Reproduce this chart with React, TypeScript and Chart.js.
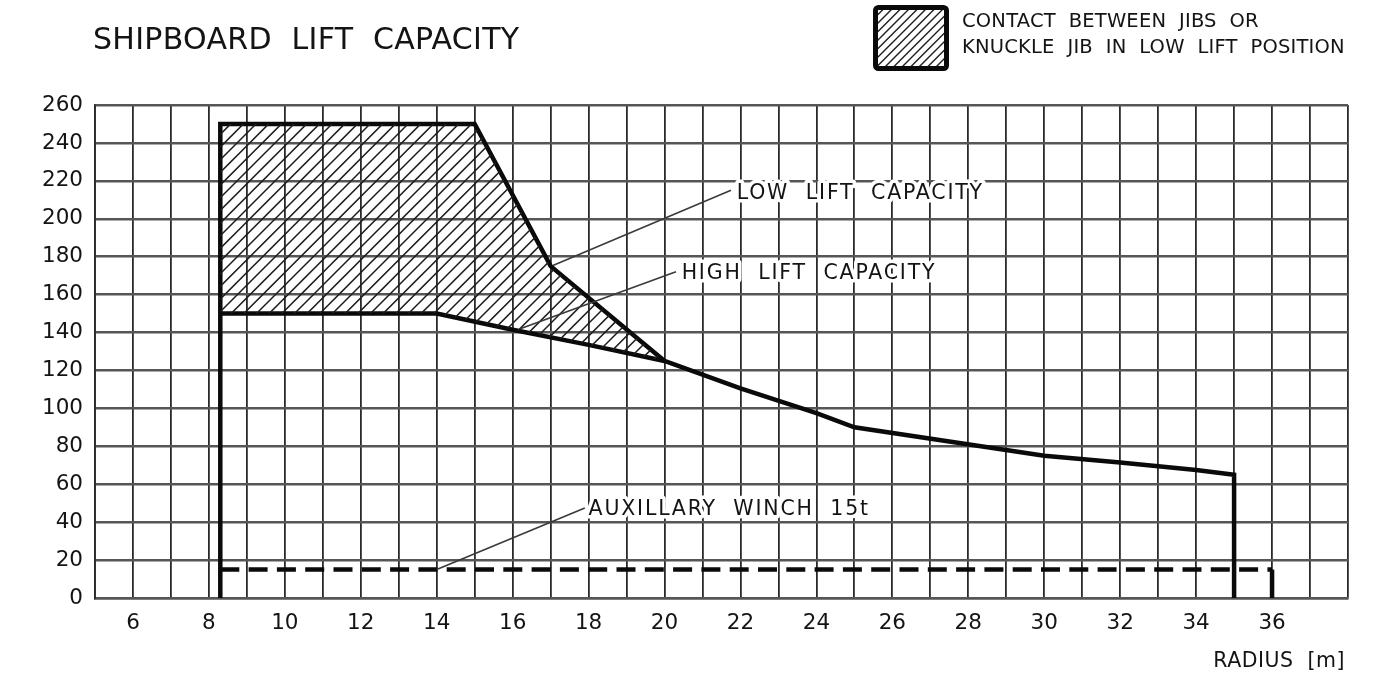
import React, { useEffect, useRef } from 'react';
import { Chart, registerables } from 'chart.js';

Chart.register(...registerables);

// ---- data ----
const lowLiftRadius = [8.3, 8.3, 15, 17, 20];
const lowLiftCapacity = [0, 250, 250, 175, 125];

const highLiftRadius = [8.3, 14, 16, 18, 20, 22, 24, 25, 30, 32, 34, 35, 35];
const highLiftCapacity = [150, 150, 141.5, 133.5, 125, 110.5, 97.5, 90, 75, 71.5, 67.5, 65, 0];

const auxRadius = [8.3, 36, 36];
const auxCapacity = [15, 15, 0];

const xTickLabels = [6, 8, 10, 12, 14, 16, 18, 20, 22, 24, 26, 28, 30, 32, 34, 36];
const yTickLabels = [0, 20, 40, 60, 80, 100, 120, 140, 160, 180, 200, 220, 240, 260];

const TITLE = 'SHIPBOARD  LIFT  CAPACITY';
const LEGEND_LINES = ['CONTACT  BETWEEN  JIBS  OR', 'KNUCKLE  JIB  IN  LOW  LIFT  POSITION'];
const X_TITLE = 'RADIUS  [m]';

const callouts = [
  { text: 'LOW  LIFT  CAPACITY', at: [21.9, 214.5], from: [21.75, 215], to: [17.06, 175.4] },
  { text: 'HIGH  LIFT  CAPACITY', at: [20.45, 172], from: [20.3, 172], to: [16.2, 142] },
  { text: 'AUXILLARY  WINCH  15t', at: [18.0, 47.5], from: [17.9, 47.5], to: [14.0, 15] },
];

const toPoints = (xs: number[], ys: number[]) => xs.map((x, i) => ({ x, y: ys[i] }));

// hatched contact zone: low-lift upper edge, back along high-lift lower edge (radius <= 20)
const hatchPoints = (() => {
  const top = toPoints(lowLiftRadius, lowLiftCapacity).filter((p) => p.y > 0);
  const bottom = toPoints(highLiftRadius, highLiftCapacity)
    .filter((p) => p.x <= 20)
    .reverse();
  return [...top, ...bottom.slice(1)];
})();

function makeHatch(tile: number, per: number, lw: number, color: string): CanvasPattern | string {
  const c = document.createElement('canvas');
  c.width = tile;
  c.height = tile;
  const g = c.getContext('2d');
  if (!g) return color;
  const s = tile / per;
  g.strokeStyle = color;
  g.lineWidth = lw;
  g.beginPath();
  for (let k = -1; k <= per * 2 + 1; k++) {
    const cc = k * s;
    g.moveTo(cc + 2, -2);
    g.lineTo(cc - tile - 2, tile + 2);
  }
  g.stroke();
  const ctx = document.createElement('canvas').getContext('2d');
  return (ctx && ctx.createPattern(c, 'repeat')) || color;
}

const FONT = "'DejaVu Sans', sans-serif";
const INK = '#141414';

function drawText(
  ctx: CanvasRenderingContext2D,
  text: string,
  x: number,
  y: number,
  size: number,
  spacing: number,
  align: CanvasTextAlign = 'left',
  halo = false
) {
  ctx.save();
  ctx.font = `${size}px ${FONT}`;
  (ctx as any).letterSpacing = `${spacing}px`;
  ctx.textAlign = align;
  ctx.textBaseline = 'alphabetic';
  if (halo) {
    ctx.strokeStyle = '#ffffff';
    ctx.lineWidth = 7;
    ctx.lineJoin = 'round';
    ctx.strokeText(text, x, y);
  }
  ctx.fillStyle = INK;
  ctx.fillText(text, x, y);
  ctx.restore();
}

const decorPlugin = {
  id: 'decor',
  afterDatasetsDraw(chart: any) {
    const ctx: CanvasRenderingContext2D = chart.ctx;
    const xs = chart.scales.x;
    const ys = chart.scales.y;
    const px = (v: number) => xs.getPixelForValue(v);
    const py = (v: number) => ys.getPixelForValue(v);
    const cap = 20.5 * 0.729;
    // leader lines
    ctx.save();
    ctx.strokeStyle = '#3a3a3a';
    ctx.lineWidth = 1.6;
    callouts.forEach((c) => {
      ctx.beginPath();
      ctx.moveTo(px(c.from[0]), py(c.from[1]));
      ctx.lineTo(px(c.to[0]), py(c.to[1]));
      ctx.stroke();
    });
    ctx.restore();
    callouts.forEach((c) => {
      drawText(ctx, c.text, px(c.at[0]), py(c.at[1]) + cap / 2, 20.5, 1.8, 'left', true);
    });
  },
  afterDraw(chart: any) {
    const ctx: CanvasRenderingContext2D = chart.ctx;
    const area = chart.chartArea;
    // title
    drawText(ctx, TITLE, 93, 48.5, 30, 0.3);
    // legend box
    const pat = chart.$hatchLegend;
    ctx.save();
    ctx.beginPath();
    (ctx as any).roundRect ? (ctx as any).roundRect(875.5, 7.5, 71, 61, 3) : ctx.rect(875.5, 7.5, 71, 61);
    ctx.fillStyle = pat;
    ctx.fill();
    ctx.lineWidth = 5;
    ctx.strokeStyle = '#0a0a0a';
    ctx.stroke();
    ctx.restore();
    drawText(ctx, LEGEND_LINES[0], 962, 27, 19.5, 0.2);
    drawText(ctx, LEGEND_LINES[1], 962, 53, 19.5, 0.2);
    // x axis title
    drawText(ctx, X_TITLE, area.right - 3, 667, 20.5, 0.5, 'right');
  },
};

export default function App() {
  const ref = useRef<HTMLCanvasElement | null>(null);

  useEffect(() => {
    const canvas = ref.current;
    if (!canvas) return;
    const hatch = makeHatch(38, 3, 1.5, '#1e1e1e');
    const hatchLegend = makeHatch(34, 4, 1.4, '#1e1e1e');

    const vGrid = '#2a2a2a';
    const hGrid = '#565656';

    const chart = new Chart(canvas, {
      type: 'scatter',
      data: {
        datasets: [
          {
            label: 'contact',
            data: hatchPoints,
            showLine: true,
            fill: 'shape',
            backgroundColor: hatch as any,
            borderWidth: 0,
            borderColor: 'rgba(0,0,0,0)',
            pointRadius: 0,
          } as any,
          {
            label: 'aux',
            data: toPoints(auxRadius, auxCapacity),
            showLine: true,
            borderColor: '#0a0a0a',
            borderWidth: 4.5,
            borderDash: [19, 9.3],
            borderCapStyle: 'butt',
            segment: {
              borderDash: (c: any) => (c.p0DataIndex === 1 ? [] : [19, 9.3]),
            },
            pointRadius: 0,
            fill: false,
          } as any,
          {
            label: 'high',
            data: toPoints(highLiftRadius, highLiftCapacity),
            showLine: true,
            borderColor: '#0a0a0a',
            borderWidth: 4.5,
            borderJoinStyle: 'miter',
            borderCapStyle: 'butt',
            pointRadius: 0,
            fill: false,
          },
          {
            label: 'low',
            data: toPoints(lowLiftRadius, lowLiftCapacity),
            showLine: true,
            borderColor: '#0a0a0a',
            borderWidth: 4.5,
            borderJoinStyle: 'miter',
            borderCapStyle: 'butt',
            pointRadius: 0,
            fill: false,
          },
        ],
      },
      options: {
        responsive: false,
        devicePixelRatio: 1,
        animation: false,
        events: [],
        layout: { padding: { top: 105, right: 26, left: 0, bottom: 0 } },
        plugins: {
          legend: { display: false },
          tooltip: { enabled: false },
          title: { display: false },
        },
        scales: {
          x: {
            type: 'linear',
            min: 5,
            max: 38,
            afterFit: (s: any) => {
              s.height = 79;
            },
            ticks: {
              stepSize: 1,
              autoSkip: false,
              maxRotation: 0,
              padding: 13,
              color: INK,
              font: { family: FONT, size: 21.5 },
              callback: (v: any) => (xTickLabels.includes(Number(v)) ? String(v) : ''),
            },
            grid: { color: vGrid, lineWidth: 1.8, drawTicks: false },
            border: { display: true, color: hGrid, width: 2.4 },
          },
          y: {
            type: 'linear',
            min: 0,
            max: 260,
            afterFit: (s: any) => {
              s.width = 95;
            },
            ticks: {
              stepSize: 20,
              autoSkip: false,
              padding: 12,
              color: INK,
              font: { family: FONT, size: 21.5 },
              callback: (v: any) => (yTickLabels.includes(Number(v)) ? String(v) : ''),
            },
            grid: { color: hGrid, lineWidth: 2.4, drawTicks: false },
            border: { display: true, color: vGrid, width: 1.8 },
          },
        },
      } as any,
      plugins: [decorPlugin],
    });
    (chart as any).$hatchLegend = hatchLegend;
    chart.draw();

    return () => {
      chart.destroy();
    };
  }, []);

  return (
    <div style={{ position: 'absolute', left: 0, top: 0, width: 1374, height: 677, background: '#fff' }}>
      <canvas ref={ref} width={1374} height={677} style={{ display: 'block' }} />
    </div>
  );
}
